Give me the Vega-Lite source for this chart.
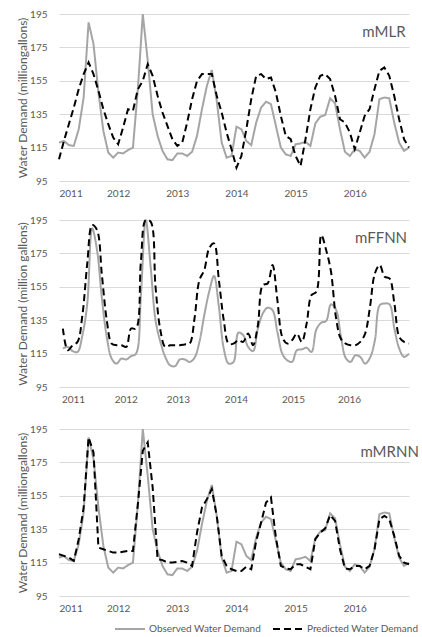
{
  "$schema": "https://vega.github.io/schema/vega-lite/v6.json",
  "padding": {"left": 16, "top": 9, "right": 2, "bottom": 2},
  "datasets": {
    "observed": [
      {"month":0,"value":118},{"month":1,"value":119},{"month":2,"value":116.5},{"month":3,"value":116},{"month":4,"value":126},{"month":5,"value":145},{"month":6,"value":190},{"month":7,"value":177},{"month":8,"value":148},{"month":9,"value":125},{"month":10,"value":112},{"month":11,"value":109},
      {"month":12,"value":112},{"month":13,"value":111.5},{"month":14,"value":113.5},{"month":15,"value":115},{"month":16,"value":150},{"month":17,"value":195},{"month":18,"value":167},{"month":19,"value":135},{"month":20,"value":122},{"month":21,"value":113},{"month":22,"value":108},{"month":23,"value":107.5},
      {"month":24,"value":111.5},{"month":25,"value":111.5},{"month":26,"value":110},{"month":27,"value":112.5},{"month":28,"value":122},{"month":29,"value":138},{"month":30,"value":152},{"month":31,"value":161.5},{"month":32,"value":143},{"month":33,"value":118},{"month":34,"value":109},{"month":35,"value":110},
      {"month":36,"value":127.5},{"month":37,"value":126},{"month":38,"value":119},{"month":39,"value":116.5},{"month":40,"value":130},{"month":41,"value":139},{"month":42,"value":142.5},{"month":43,"value":141},{"month":44,"value":128},{"month":45,"value":115},{"month":46,"value":111},{"month":47,"value":110},
      {"month":48,"value":117},{"month":49,"value":117.5},{"month":50,"value":118.5},{"month":51,"value":116},{"month":52,"value":129.5},{"month":53,"value":133.5},{"month":54,"value":134.5},{"month":55,"value":144.5},{"month":56,"value":141.5},{"month":57,"value":126},{"month":58,"value":112.5},{"month":59,"value":110},
      {"month":60,"value":114},{"month":61,"value":113},{"month":62,"value":109},{"month":63,"value":112.5},{"month":64,"value":123},{"month":65,"value":144},{"month":66,"value":145},{"month":67,"value":144.5},{"month":68,"value":130},{"month":69,"value":118},{"month":70,"value":113},{"month":71,"value":115}
    ],
    "mMLR": [
      {"month":0,"value":108},{"month":1,"value":119},{"month":2,"value":129},{"month":3,"value":139},{"month":4,"value":150},{"month":5,"value":159},{"month":6,"value":166},{"month":7,"value":159},{"month":8,"value":149},{"month":9,"value":138},{"month":10,"value":129},{"month":11,"value":121},
      {"month":12,"value":117},{"month":13,"value":127},{"month":14,"value":138},{"month":15,"value":137},{"month":16,"value":150},{"month":17,"value":155},{"month":18,"value":165},{"month":19,"value":158},{"month":20,"value":146},{"month":21,"value":136},{"month":22,"value":128},{"month":23,"value":120},
      {"month":24,"value":116},{"month":25,"value":118},{"month":26,"value":130},{"month":27,"value":144},{"month":28,"value":155},{"month":29,"value":159},{"month":30,"value":159},{"month":31,"value":159},{"month":32,"value":146},{"month":33,"value":136},{"month":34,"value":124},{"month":35,"value":114},
      {"month":36,"value":103},{"month":37,"value":110},{"month":38,"value":126},{"month":39,"value":144},{"month":40,"value":158},{"month":41,"value":159},{"month":42,"value":156},{"month":43,"value":157},{"month":44,"value":148},{"month":45,"value":134},{"month":46,"value":122},{"month":47,"value":120},
      {"month":48,"value":110},{"month":49,"value":104},{"month":50,"value":120},{"month":51,"value":138},{"month":52,"value":151},{"month":53,"value":158},{"month":54,"value":159},{"month":55,"value":156},{"month":56,"value":146},{"month":57,"value":132},{"month":58,"value":130},{"month":59,"value":124},
      {"month":60,"value":114},{"month":61,"value":124},{"month":62,"value":134},{"month":63,"value":138},{"month":64,"value":150},{"month":65,"value":161},{"month":66,"value":163},{"month":67,"value":158},{"month":68,"value":146},{"month":69,"value":132},{"month":70,"value":120},{"month":71,"value":115}
    ],
    "mFFNN": [
      {"month":0,"value":130},{"month":1,"value":117},{"month":2,"value":120},{"month":3,"value":122},{"month":4,"value":138},{"month":5,"value":169},{"month":6,"value":192},{"month":7,"value":189},{"month":8,"value":162},{"month":9,"value":135},{"month":10,"value":121},{"month":11,"value":120},
      {"month":12,"value":120},{"month":13,"value":119},{"month":14,"value":130},{"month":15,"value":130},{"month":16,"value":170},{"month":17,"value":195},{"month":18,"value":194},{"month":19,"value":155},{"month":20,"value":129},{"month":21,"value":119},{"month":22,"value":120},{"month":23,"value":120},
      {"month":24,"value":120},{"month":25,"value":120.5},{"month":26,"value":121},{"month":27,"value":136},{"month":28,"value":159},{"month":29,"value":165},{"month":30,"value":178},{"month":31,"value":181},{"month":32,"value":159},{"month":33,"value":135},{"month":34,"value":121},{"month":35,"value":121},
      {"month":36,"value":123},{"month":37,"value":122},{"month":38,"value":127},{"month":39,"value":120},{"month":40,"value":132},{"month":41,"value":156},{"month":42,"value":157},{"month":43,"value":168},{"month":44,"value":147},{"month":45,"value":125},{"month":46,"value":121},{"month":47,"value":123},
      {"month":48,"value":127},{"month":49,"value":122},{"month":50,"value":133},{"month":51,"value":150},{"month":52,"value":152},{"month":53,"value":186},{"month":54,"value":177},{"month":55,"value":164},{"month":56,"value":137},{"month":57,"value":124},{"month":58,"value":121},{"month":59,"value":120},
      {"month":60,"value":120},{"month":61,"value":122},{"month":62,"value":127},{"month":63,"value":143},{"month":64,"value":163},{"month":65,"value":168},{"month":66,"value":161},{"month":67,"value":160},{"month":68,"value":145},{"month":69,"value":125},{"month":70,"value":122},{"month":71,"value":121}
    ],
    "mMRNN": [
      {"month":0,"value":120},{"month":1,"value":119},{"month":2,"value":118},{"month":3,"value":116},{"month":4,"value":129},{"month":5,"value":148},{"month":6,"value":190},{"month":7,"value":181},{"month":8,"value":124},{"month":9,"value":123},{"month":10,"value":122},{"month":11,"value":121},
      {"month":12,"value":121},{"month":13,"value":121.5},{"month":14,"value":122},{"month":15,"value":122},{"month":16,"value":150},{"month":17,"value":182},{"month":18,"value":187},{"month":19,"value":160},{"month":20,"value":117},{"month":21,"value":116.5},{"month":22,"value":115},{"month":23,"value":115},
      {"month":24,"value":115.5},{"month":25,"value":116},{"month":26,"value":115},{"month":27,"value":113},{"month":28,"value":133},{"month":29,"value":148},{"month":30,"value":153},{"month":31,"value":159},{"month":32,"value":143},{"month":33,"value":119},{"month":34,"value":113},{"month":35,"value":111},
      {"month":36,"value":110},{"month":37,"value":110},{"month":38,"value":112.5},{"month":39,"value":111},{"month":40,"value":128},{"month":41,"value":139},{"month":42,"value":151},{"month":43,"value":154},{"month":44,"value":130},{"month":45,"value":113},{"month":46,"value":111.5},{"month":47,"value":111},
      {"month":48,"value":114},{"month":49,"value":114},{"month":50,"value":112.5},{"month":51,"value":111},{"month":52,"value":129},{"month":53,"value":133},{"month":54,"value":135.5},{"month":55,"value":143.5},{"month":56,"value":140},{"month":57,"value":123},{"month":58,"value":111.5},{"month":59,"value":111},
      {"month":60,"value":113},{"month":61,"value":113},{"month":62,"value":111},{"month":63,"value":113},{"month":64,"value":123},{"month":65,"value":141},{"month":66,"value":143},{"month":67,"value":141},{"month":68,"value":131},{"month":69,"value":119},{"month":70,"value":115},{"month":71,"value":114}
    ]
  },
  "config": {
    "font": "Lato",
    "view": {"stroke": null},
    "axis": {"labelFont": "Lato", "titleFont": "Lato", "labelColor": "#595959", "titleColor": "#595959", "labelFontSize": 10, "titleFontSize": 12, "titleFontWeight": "normal", "gridColor": "#D9D9D9", "gridWidth": 1, "domain": false, "ticks": false, "tickSize": 0},
    "axisY": {"labelPadding": 12, "titlePadding": 0},
    "axisX": {"labelPadding": 7},
    "legend": {"orient": "none", "legendX": 55, "legendY": 599, "direction": "horizontal", "labelFont": "Lato", "labelFontSize": 10, "labelColor": "#595959", "symbolType": "stroke", "symbolSize": 900, "symbolStrokeWidth": 2, "columnPadding": 7, "labelOffset": 3, "labelLimit": 200}
  },
  "resolve": {"scale": {"color": "shared", "strokeDash": "shared"}},
  "vconcat": [
    {
      "spacing": 17,
      "vconcat": [
        {
          "width": 350, "height": 167,
          "layer": [
            {"data": {"name": "observed"}, "mark": {"type": "line", "strokeWidth": 2},
             "encoding": {
               "x": {"field": "month", "type": "quantitative", "scale": {"domain": [0, 71], "nice": false, "zero": false}, "axis": {"values": [0, 12, 24, 36, 48, 60], "labelExpr": "'' + (2011 + datum.value / 12)", "grid": false, "title": null}},
               "y": {"field": "value", "type": "quantitative", "scale": {"domain": [95, 195], "nice": false, "zero": false}, "axis": {"values": [95, 115, 135, 155, 175, 195], "title": "Water Demand (milliongallons)"}},
               "color": {"datum": "Observed Water Demand", "type": "nominal", "scale": {"domain": ["Observed Water Demand", "Predicted Water Demand"], "range": ["#A5A5A5", "#000000"]}, "legend": {"title": null}},
               "strokeDash": {"datum": "Observed Water Demand", "type": "nominal", "scale": {"domain": ["Observed Water Demand", "Predicted Water Demand"], "range": [[1, 0], [7, 4]]}, "legend": {"title": null}}}},
            {"data": {"name": "mMLR"}, "mark": {"type": "line", "strokeWidth": 2},
             "encoding": {
               "x": {"field": "month", "type": "quantitative", "scale": {"domain": [0, 71], "nice": false, "zero": false}, "axis": {"values": [0, 12, 24, 36, 48, 60], "labelExpr": "'' + (2011 + datum.value / 12)", "grid": false, "title": null}},
               "y": {"field": "value", "type": "quantitative", "scale": {"domain": [95, 195], "nice": false, "zero": false}, "axis": {"values": [95, 115, 135, 155, 175, 195], "title": "Water Demand (milliongallons)"}},
               "color": {"datum": "Predicted Water Demand", "type": "nominal"},
               "strokeDash": {"datum": "Predicted Water Demand", "type": "nominal"}}},
            {"data": {"values": [{"label": "mMLR"}]}, "mark": {"type": "text", "align": "right", "baseline": "alphabetic", "fontSize": 15, "color": "#595959", "font": "Lato"},
             "encoding": {
               "x": {"datum": 70.3, "type": "quantitative", "scale": {"domain": [0, 71], "nice": false, "zero": false}, "axis": {"values": [0, 12, 24, 36, 48, 60], "labelExpr": "'' + (2011 + datum.value / 12)", "grid": false, "title": null}},
               "y": {"datum": 181, "type": "quantitative", "scale": {"domain": [95, 195], "nice": false, "zero": false}, "axis": {"values": [95, 115, 135, 155, 175, 195], "title": "Water Demand (milliongallons)"}},
               "text": {"field": "label", "type": "nominal"}}}
          ]
        },
        {
          "width": 350, "height": 167,
          "layer": [
            {"data": {"name": "observed"}, "mark": {"type": "line", "strokeWidth": 2, "interpolate": "catmull-rom"},
             "encoding": {
               "x": {"field": "month", "type": "quantitative", "scale": {"domain": [-0.8, 71], "nice": false, "zero": false}, "axis": {"values": [2.07, 12.9, 23.6, 35.5, 47.2, 58.7], "labelExpr": "'' + (2011 + round(datum.value / 11.5))", "grid": false, "title": null}},
               "y": {"field": "value", "type": "quantitative", "scale": {"domain": [95, 195], "nice": false, "zero": false}, "axis": {"values": [95, 115, 135, 155, 175, 195], "title": "Water Demand (million gallons)"}},
               "color": {"datum": "Observed Water Demand", "type": "nominal"},
               "strokeDash": {"datum": "Observed Water Demand", "type": "nominal"}}},
            {"data": {"name": "mFFNN"}, "mark": {"type": "line", "strokeWidth": 2, "interpolate": "catmull-rom"},
             "encoding": {
               "x": {"field": "month", "type": "quantitative", "scale": {"domain": [-0.8, 71], "nice": false, "zero": false}, "axis": {"values": [2.07, 12.9, 23.6, 35.5, 47.2, 58.7], "labelExpr": "'' + (2011 + round(datum.value / 11.5))", "grid": false, "title": null}},
               "y": {"field": "value", "type": "quantitative", "scale": {"domain": [95, 195], "nice": false, "zero": false}, "axis": {"values": [95, 115, 135, 155, 175, 195], "title": "Water Demand (million gallons)"}},
               "color": {"datum": "Predicted Water Demand", "type": "nominal"},
               "strokeDash": {"datum": "Predicted Water Demand", "type": "nominal"}}},
            {"data": {"values": [{"label": "mFFNN"}]}, "mark": {"type": "text", "align": "right", "baseline": "alphabetic", "fontSize": 15, "color": "#595959", "font": "Lato"},
             "encoding": {
               "x": {"datum": 70.6, "type": "quantitative", "scale": {"domain": [-0.8, 71], "nice": false, "zero": false}, "axis": {"values": [2.07, 12.9, 23.6, 35.5, 47.2, 58.7], "labelExpr": "'' + (2011 + round(datum.value / 11.5))", "grid": false, "title": null}},
               "y": {"datum": 181, "type": "quantitative", "scale": {"domain": [95, 195], "nice": false, "zero": false}, "axis": {"values": [95, 115, 135, 155, 175, 195], "title": "Water Demand (million gallons)"}},
               "text": {"field": "label", "type": "nominal"}}}
          ]
        }
      ]
    },
    {
      "width": 350, "height": 167,
      "layer": [
        {"data": {"name": "observed"}, "mark": {"type": "line", "strokeWidth": 2},
         "encoding": {
           "x": {"field": "month", "type": "quantitative", "scale": {"domain": [0, 71], "nice": false, "zero": false}, "axis": {"values": [0, 12, 24, 36, 48, 60], "labelExpr": "'' + (2011 + datum.value / 12)", "grid": false, "title": null}},
           "y": {"field": "value", "type": "quantitative", "scale": {"domain": [95, 195], "nice": false, "zero": false}, "axis": {"values": [95, 115, 135, 155, 175, 195], "title": "Water Demand (milliongallons)"}},
           "color": {"datum": "Observed Water Demand", "type": "nominal"},
           "strokeDash": {"datum": "Observed Water Demand", "type": "nominal"}}},
        {"data": {"name": "mMRNN"}, "mark": {"type": "line", "strokeWidth": 2},
         "encoding": {
           "x": {"field": "month", "type": "quantitative", "scale": {"domain": [0, 71], "nice": false, "zero": false}, "axis": {"values": [0, 12, 24, 36, 48, 60], "labelExpr": "'' + (2011 + datum.value / 12)", "grid": false, "title": null}},
           "y": {"field": "value", "type": "quantitative", "scale": {"domain": [95, 195], "nice": false, "zero": false}, "axis": {"values": [95, 115, 135, 155, 175, 195], "title": "Water Demand (milliongallons)"}},
           "color": {"datum": "Predicted Water Demand", "type": "nominal"},
           "strokeDash": {"datum": "Predicted Water Demand", "type": "nominal"}}},
        {"data": {"values": [{"label": "mMRNN"}]}, "mark": {"type": "text", "align": "right", "baseline": "alphabetic", "fontSize": 15, "color": "#595959", "font": "Lato"},
         "encoding": {
           "x": {"datum": 73, "type": "quantitative", "scale": {"domain": [0, 71], "nice": false, "zero": false}, "axis": {"values": [0, 12, 24, 36, 48, 60], "labelExpr": "'' + (2011 + datum.value / 12)", "grid": false, "title": null}},
           "y": {"datum": 178, "type": "quantitative", "scale": {"domain": [95, 195], "nice": false, "zero": false}, "axis": {"values": [95, 115, 135, 155, 175, 195], "title": "Water Demand (milliongallons)"}},
           "text": {"field": "label", "type": "nominal"}}}
      ]
    }
  ],
  "spacing": 20
}
